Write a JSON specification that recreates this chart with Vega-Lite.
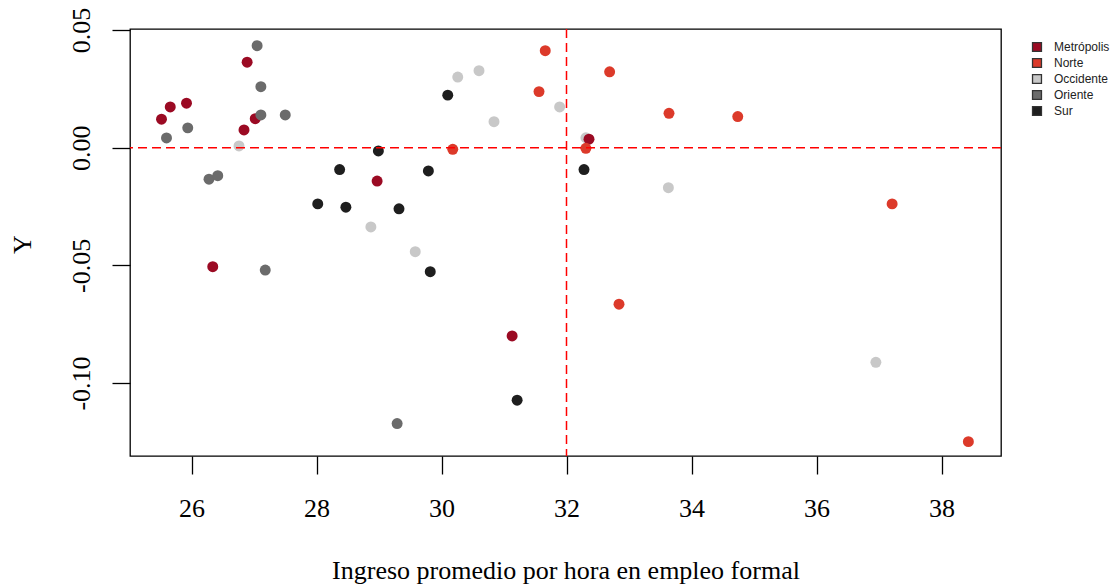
{
  "$schema": "https://vega.github.io/schema/vega-lite/v6.json",
  "autosize": "none",
  "width": 871,
  "height": 427,
  "padding": {"left": 130, "top": 29, "right": 113, "bottom": 129},
  "background": "white",
  "config": {
    "view": {"stroke": "#000000", "strokeWidth": 1.3},
    "axis": {
      "grid": false,
      "domain": false,
      "tickColor": "#000000",
      "tickWidth": 1.3,
      "tickSize": 18,
      "labelFont": "Liberation Serif",
      "labelFontSize": 26,
      "labelColor": "#000000",
      "titleFont": "Liberation Serif",
      "titleFontSize": 26,
      "titleFontWeight": "normal",
      "titleColor": "#000000"
    }
  },
  "datasets": {
    "pts": [
      {"region": "Occidente", "x": 26.76, "y": 0.0007},
      {"region": "Occidente", "x": 28.87, "y": -0.0337},
      {"region": "Occidente", "x": 29.58, "y": -0.0442},
      {"region": "Occidente", "x": 30.26, "y": 0.0300},
      {"region": "Occidente", "x": 30.60, "y": 0.0327},
      {"region": "Occidente", "x": 30.84, "y": 0.0110},
      {"region": "Occidente", "x": 31.89, "y": 0.0173},
      {"region": "Occidente", "x": 32.31, "y": 0.0042},
      {"region": "Occidente", "x": 33.63, "y": -0.0170},
      {"region": "Occidente", "x": 36.95, "y": -0.0912},
      {"region": "Metrópolis", "x": 25.52, "y": 0.0121},
      {"region": "Metrópolis", "x": 25.66, "y": 0.0173},
      {"region": "Metrópolis", "x": 25.92, "y": 0.0189},
      {"region": "Metrópolis", "x": 26.89, "y": 0.0363},
      {"region": "Metrópolis", "x": 26.84, "y": 0.0075},
      {"region": "Metrópolis", "x": 27.02, "y": 0.0123},
      {"region": "Metrópolis", "x": 26.34, "y": -0.0506},
      {"region": "Metrópolis", "x": 28.97, "y": -0.0142},
      {"region": "Metrópolis", "x": 31.13, "y": -0.0800},
      {"region": "Metrópolis", "x": 32.36, "y": 0.0036},
      {"region": "Norte", "x": 30.18, "y": -0.0007},
      {"region": "Norte", "x": 31.56, "y": 0.0238},
      {"region": "Norte", "x": 31.66, "y": 0.0412},
      {"region": "Norte", "x": 32.31, "y": -0.0003},
      {"region": "Norte", "x": 32.69, "y": 0.0322},
      {"region": "Norte", "x": 32.84, "y": -0.0665},
      {"region": "Norte", "x": 33.64, "y": 0.0146},
      {"region": "Norte", "x": 34.74, "y": 0.0132},
      {"region": "Norte", "x": 37.21, "y": -0.0239},
      {"region": "Norte", "x": 38.43, "y": -0.1249},
      {"region": "Oriente", "x": 25.60, "y": 0.0041},
      {"region": "Oriente", "x": 25.94, "y": 0.0084},
      {"region": "Oriente", "x": 27.05, "y": 0.0433},
      {"region": "Oriente", "x": 27.11, "y": 0.0259},
      {"region": "Oriente", "x": 27.11, "y": 0.0139},
      {"region": "Oriente", "x": 27.50, "y": 0.0139},
      {"region": "Oriente", "x": 26.28, "y": -0.0134},
      {"region": "Oriente", "x": 26.42, "y": -0.0119},
      {"region": "Oriente", "x": 27.18, "y": -0.0520},
      {"region": "Oriente", "x": 29.29, "y": -0.1172},
      {"region": "Sur", "x": 28.02, "y": -0.0239},
      {"region": "Sur", "x": 28.37, "y": -0.0093},
      {"region": "Sur", "x": 28.47, "y": -0.0253},
      {"region": "Sur", "x": 28.99, "y": -0.0014},
      {"region": "Sur", "x": 29.32, "y": -0.0260},
      {"region": "Sur", "x": 29.79, "y": -0.0099},
      {"region": "Sur", "x": 29.82, "y": -0.0527},
      {"region": "Sur", "x": 30.10, "y": 0.0223},
      {"region": "Sur", "x": 31.21, "y": -0.1073},
      {"region": "Sur", "x": 32.28, "y": -0.0093}
    ]
  },
  "layer": [
    {
      "data": {"name": "pts"},
      "mark": {"type": "circle", "size": 120, "opacity": 1},
      "encoding": {
        "x": {
          "field": "x", "type": "quantitative",
          "scale": {"domain": [25.016, 38.952], "nice": false, "zero": false},
          "axis": {
            "values": [26, 28, 30, 32, 34, 36, 38],
            "format": "d",
            "title": "Ingreso promedio por hora en empleo formal",
            "labelBaseline": "alphabetic",
            "labelPadding": 42,
            "titleBaseline": "alphabetic",
            "titleY": 122,
            "titleX": 435.5,
            "titleAnchor": "middle"
          }
        },
        "y": {
          "field": "y", "type": "quantitative",
          "scale": {"domain": [-0.131, 0.0504], "nice": false, "zero": false},
          "axis": {
            "values": [-0.1, -0.05, 0, 0.05],
            "labelExpr": "datum.value < 0 ? '-' + format(-datum.value, '.2f') : format(datum.value, '.2f')",
            "labelAngle": -90,
            "labelAlign": "center",
            "labelBaseline": "alphabetic",
            "labelPadding": 23,
            "title": "Y",
            "titleAngle": -90,
            "titleBaseline": "alphabetic",
            "titleX": -100,
            "titleY": 215,
            "titleAnchor": "middle"
          }
        },
        "color": {
          "field": "region", "type": "nominal",
          "scale": {
            "domain": ["Metrópolis", "Norte", "Occidente", "Oriente", "Sur"],
            "range": ["#9B0A23", "#DC3A2A", "#C8C8C8", "#6B6B6B", "#1E1E1E"]
          },
          "legend": {
            "title": null,
            "orient": "none",
            "legendX": 901,
            "legendY": 12,
            "padding": 0,
            "symbolType": "square",
            "symbolSize": 80,
            "symbolStrokeColor": "#333333",
            "symbolStrokeWidth": 1.3,
            "symbolOpacity": 1,
            "labelFont": "Liberation Sans",
            "labelFontSize": 12,
            "labelColor": "#222222",
            "labelOffset": 11,
            "rowPadding": 0
          }
        }
      }
    },
    {
      "data": {"values": [{"xref": 32}]},
      "mark": {"type": "rule", "color": "#FF0000", "strokeWidth": 1.5, "strokeDash": [9, 5]},
      "encoding": {"x": {"field": "xref", "type": "quantitative"}}
    },
    {
      "data": {"values": [{"yref": 0}]},
      "mark": {"type": "rule", "color": "#FF0000", "strokeWidth": 1.5, "strokeDash": [9, 5]},
      "encoding": {"y": {"field": "yref", "type": "quantitative"}}
    }
  ]
}
